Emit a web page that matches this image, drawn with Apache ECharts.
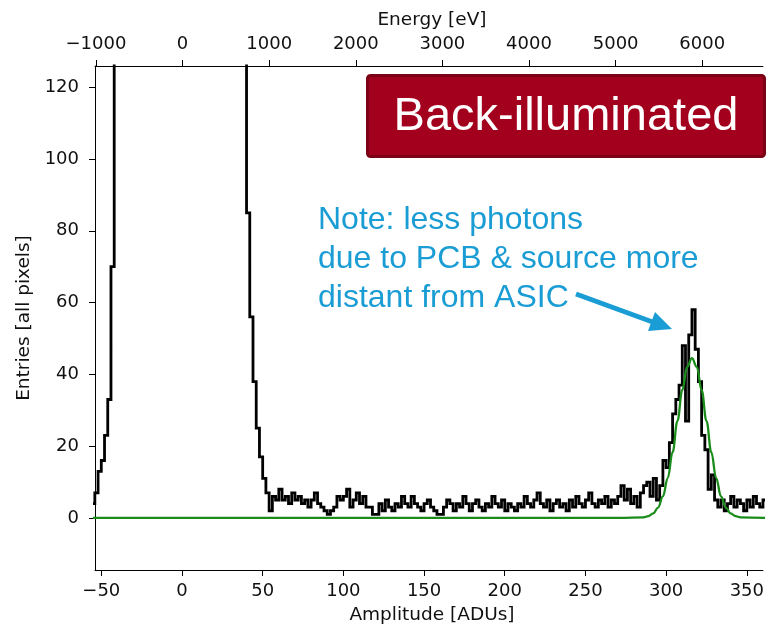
<!DOCTYPE html>
<html><head><meta charset="utf-8">
<script src="https://cdn.jsdelivr.net/npm/echarts@6/dist/echarts.min.js"></script>
<style>html,body{margin:0;padding:0;background:#fff;overflow:hidden}#c{width:767px;height:630px}</style>
</head><body><div id="c"></div>
<script>
// ---- data ----
const binStart = -56;   // left edge of first bin [ADU]
const binWidth = 2;     // ADU per bin
// counts per bin, left to right
const countsLeftTail = [4, 7, 13, 16, 23, 33, 70];                       // -56 .. -44
const countsPedestal = [300, 480, 760, 1150, 1700, 2400, 3300, 4400, 5700, 7100,
  8600, 10100, 11600, 13000, 14200, 15200, 15900, 16400, 16700, 16900,
  16950, 16900, 16700, 16400, 15900, 15200, 14200, 13000, 11600, 10100,
  8600, 7100, 5700, 4400, 3300, 2400, 1700, 1150, 760, 480, 300];       // -42 .. 38 (off scale)
const countsRightTail = [85, 56, 38, 25, 17, 11, 7, 2];                    // 40 .. 54
const countsNoise = [
  6, 5, 8, 5, 6, 4, 7, 5, 6, 4,
  5, 3, 5, 7, 4, 3, 2, 1, 2, 3,
  6, 5, 6, 8, 3, 5, 7, 4, 6, 3,
  3, 1, 1, 4, 2, 5, 3, 2, 4, 3,
  6, 4, 3, 6, 4, 3, 2, 4, 5, 3,
  2, 1, 1, 3, 5, 4, 2, 4, 3, 6,
  4, 2, 4, 5, 3, 2, 4, 3, 6, 4,
  3, 5, 2, 4, 3, 2, 4, 3, 6, 4,
  3, 5, 7, 4, 3, 5, 2, 4, 5, 3,
  4, 2, 5, 3, 6, 4, 3, 5, 7, 4,
  3, 5, 4, 6, 3, 5, 4, 6, 9, 5,
  8, 4, 6, 3, 7, 9];                                                       // 56 .. 286
const countsPeak = [10, 6, 11, 5, 9, 16, 14, 21, 29, 33,
  37, 48, 27, 51, 58, 47, 38, 23, 19, 8, 12, 5];                          // 288 .. 330
const countsEnd = [3, 5, 2, 4, 6, 3, 5, 4, 2, 5, 3, 6, 4, 3, 5];           // 332 .. 360

// Gaussian fit curve (green)
const fitX = [-56, 271, 286, 289, 292, 295, 298, 301, 304, 307, 310, 313, 316, 319, 322, 325, 328, 331, 334, 337, 340, 343, 346, 362];
const fitY = [0, 0, 0.17, 0.49, 1.27, 2.9, 6.0, 11.1, 18.3, 27, 35.6, 42.1, 44.5, 42.1, 35.6, 27, 18.3, 11.1, 6.0, 2.9, 1.27, 0.49, 0.17, 0];

const ampTicks = [-50, 0, 50, 100, 150, 200, 250, 300, 350];
const energyTicks = [-1000, 0, 1000, 2000, 3000, 4000, 5000, 6000];
const entryTicks = [0, 20, 40, 60, 80, 100, 120];

// ---- build ----
const counts = [].concat(countsLeftTail, countsPedestal, countsRightTail, countsNoise, countsPeak, countsEnd);
const histData = counts.map((c, i) => [binStart + i * binWidth, c]);
histData.push([binStart + counts.length * binWidth, counts[counts.length - 1]]);
const fitData = fitX.map((x, i) => [x, fitY[i]]);

const txt = '#111';
const axFont = 'DejaVu Sans';
const minus = v => String(v).replace('-', '\u2212');
const tickStyle = {show: true, inside: false, length: 6, lineStyle: {color: '#000', width: 1}};
const lineStyle = {show: true, onZero: false, lineStyle: {color: '#000', width: 1}};

const chart = echarts.init(document.getElementById('c'), null, {renderer: 'canvas'});
chart.setOption({
  animation: false,
  backgroundColor: '#fff',
  grid: {left: 95, right: 0, top: 66, bottom: 57, containLabel: false},
  xAxis: [{
    type: 'value', position: 'bottom', min: -53.9, max: 360.0,
    name: 'Amplitude [ADUs]', nameLocation: 'middle', nameGap: 36,
    nameTextStyle: {fontFamily: axFont, fontSize: 18.5, color: txt, padding: [0, 0, 0, 6]},
    axisLine: lineStyle,
    axisTick: Object.assign({customValues: ampTicks}, tickStyle),
    axisLabel: {customValues: ampTicks, formatter: minus, margin: 12, fontFamily: axFont, fontSize: 18, color: txt},
    splitLine: {show: false}
  }, {
    type: 'value', position: 'top', min: -1011, max: 6701,
    name: 'Energy [eV]', nameLocation: 'middle', nameGap: 36,
    nameTextStyle: {fontFamily: axFont, fontSize: 18.5, color: txt, padding: [0, 0, 0, 6]},
    axisLine: lineStyle,
    axisTick: Object.assign({customValues: energyTicks}, tickStyle),
    axisLabel: {customValues: energyTicks, formatter: minus, margin: 13, fontFamily: axFont, fontSize: 18, color: txt},
    splitLine: {show: false}
  }],
  yAxis: {
    type: 'value', position: 'left', min: -14.5, max: 125.9,
    name: 'Entries [all pixels]', nameLocation: 'middle', nameGap: 60, nameRotate: 90,
    nameTextStyle: {fontFamily: axFont, fontSize: 18.5, color: txt},
    axisLine: lineStyle,
    axisTick: Object.assign({customValues: entryTicks}, tickStyle),
    axisLabel: {customValues: entryTicks, formatter: minus, margin: 16, fontFamily: axFont, fontSize: 18, color: txt},
    splitLine: {show: false}
  },
  series: [{
    type: 'line', xAxisIndex: 0, data: histData, step: 'end', symbol: 'none', clip: true,
    lineStyle: {color: '#000', width: 2.8, join: 'miter'}
  }, {
    type: 'line', xAxisIndex: 0, data: fitData, symbol: 'none', clip: true,
    smooth: 0.4, smoothMonotone: 'x',
    lineStyle: {color: '#1a8c1a', width: 2.3}
  }],
  graphic: [
    {type: 'rect', shape: {x: 367.5, y: 75.5, width: 397, height: 81, r: 3},
     style: {fill: '#a3001d', stroke: '#7a0016', lineWidth: 3}, z: 100},
    {type: 'text', x: 566, y: 117, z: 101,
     style: {text: 'Back-illuminated', fill: '#fff', font: '47px "Liberation Sans"', align: 'center', verticalAlign: 'middle'}},
    {type: 'text', x: 318, y: 259.5, z: 101,
     style: {text: 'Note: less photons\ndue to PCB & source more\ndistant from ASIC', fill: '#1a9cd4',
       font: '32px "Liberation Sans"', lineHeight: 39, align: 'left', verticalAlign: 'middle'}},
    {type: 'line', shape: {x1: 576, y1: 294, x2: 654, y2: 322.5}, z: 101,
     style: {stroke: '#1a9cd4', lineWidth: 5}},
    {type: 'polygon', shape: {points: [[672, 329], [648, 331], [655, 312]]}, z: 101,
     style: {fill: '#1a9cd4'}}
  ]
});
</script></body></html>
